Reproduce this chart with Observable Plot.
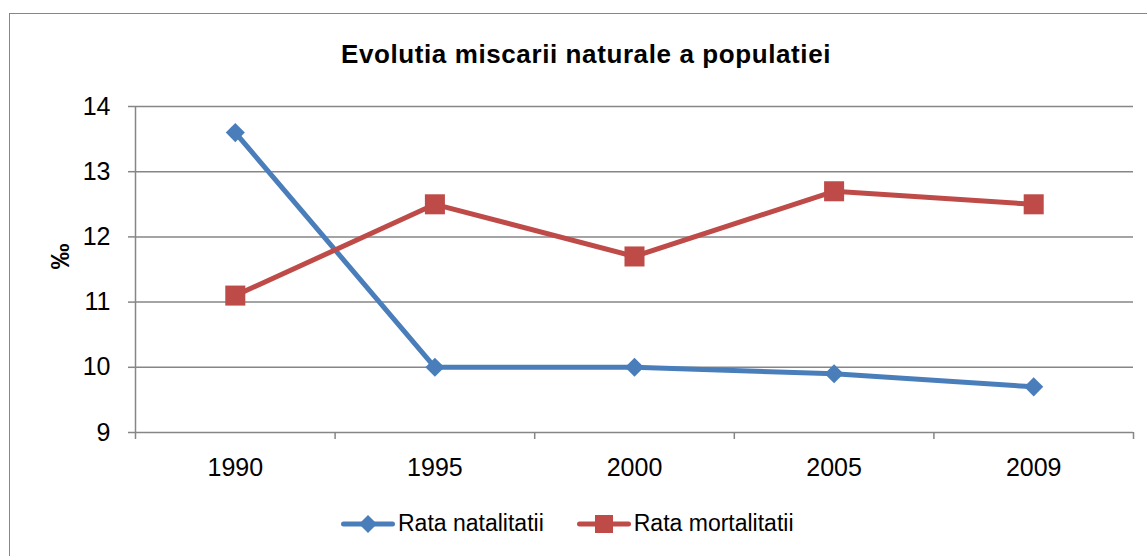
<!DOCTYPE html>
<html>
<head>
<meta charset="utf-8">
<script src="https://cdn.jsdelivr.net/npm/d3@7"></script>
<script src="https://cdn.jsdelivr.net/npm/@observablehq/plot@0.6"></script>
<style>
  html, body { margin: 0; padding: 0; background: #fff; }
  #wrap { position: relative; width: 1147px; height: 556px; overflow: hidden; font-family: "Liberation Sans", Arial, sans-serif; }
  #border { position: absolute; left: 9px; top: 13px; width: 1300px; height: 700px; border: 1.5px solid #878787; }
  #title { position: absolute; left: 0; top: 39px; width: 1172px; text-align: center; font-weight: bold; font-size: 26px; letter-spacing: 0.6px; color: #000; }
  #chart { position: absolute; left: 0; top: 0; }
  #legend { position: absolute; left: 341px; top: 510px; display: flex; align-items: center; font-size: 23px; color: #000; }
  .item { display: flex; align-items: center; }
  .item svg { display: block; }
  .item span { margin-left: 3px; }
</style>
</head>
<body>
<div id="wrap">
  <div id="border"></div>
  <div id="chart"></div>
  <div id="title">Evolutia miscarii naturale a populatiei</div>
  <div id="legend"></div>
</div>
<script>
const years = ["1990", "1995", "2000", "2005", "2009"];
const natalitate = [13.6, 10.0, 10.0, 9.9, 9.7];
const mortalitate = [11.1, 12.5, 11.7, 12.7, 12.5];
const yTicks = [9, 10, 11, 12, 13, 14];
const seriesNames = ["Rata natalitatii", "Rata mortalitatii"];
const seriesColors = ["#4a7ebb", "#be4b48"];
const yLabel = "‰";

const idx = d3.range(years.length);
const nat = idx.map(i => ({i, v: natalitate[i]}));
const mor = idx.map(i => ({i, v: mortalitate[i]}));
const bounds = d3.range(years.length + 1).map(k => k - 0.5);
const grid = "#868686";

const chart = Plot.plot({
  width: 1147,
  height: 556,
  marginLeft: 135,
  marginRight: 14,
  marginTop: 106,
  marginBottom: 124,
  style: {fontFamily: "Liberation Sans, Arial, sans-serif", background: "transparent"},
  x: {type: "linear", domain: [-0.5, years.length - 0.5]},
  y: {domain: [9, 14]},
  marks: [
    Plot.ruleY(yTicks.slice(1), {stroke: grid, strokeWidth: 1.5}),
    Plot.ruleY([yTicks[0]], {stroke: grid, strokeWidth: 1.5}),
    Plot.ruleX([bounds[0]], {stroke: grid, strokeWidth: 1.5}),
    Plot.axisY({ticks: yTicks, tickSize: 7, tickPadding: 18, tickFormat: d3.format("d"), fontSize: 25, stroke: grid, strokeWidth: 1.5, color: "#000", label: null}),
    Plot.axisX({ticks: bounds, tickSize: 7, tickFormat: () => "", stroke: grid, strokeWidth: 1.5, label: null}),
    Plot.axisX({ticks: idx, tickSize: 0, tickPadding: 26, tickFormat: i => years[i], fontSize: 25, color: "#000", label: null}),
    Plot.text([yLabel], {frameAnchor: "left", rotate: -90, dx: -75, fontSize: 26, fontWeight: "bold", fill: "#000"}),
    Plot.line(nat, {x: "i", y: "v", stroke: seriesColors[0], strokeWidth: 5}),
    Plot.line(mor, {x: "i", y: "v", stroke: seriesColors[1], strokeWidth: 5}),
    Plot.dot(nat, {x: "i", y: "v", symbol: "diamond2", r: 8.6, fill: seriesColors[0], stroke: "none"}),
    Plot.dot(mor, {x: "i", y: "v", symbol: "square", r: 11.3, fill: seriesColors[1], stroke: "none"})
  ]
});
document.getElementById("chart").appendChild(chart);

const legend = document.getElementById("legend");
seriesNames.forEach((name, k) => {
  const item = document.createElement("div");
  item.className = "item";
  if (k > 0) item.style.marginLeft = "33px";
  const c = seriesColors[k];
  const marker = k === 0
    ? `<path d="M27,3 L36,12 L27,21 L18,12 Z" fill="${c}"/>`
    : `<rect x="18" y="3" width="18" height="18" fill="${c}"/>`;
  item.innerHTML = `<svg width="54" height="24"><line x1="2.5" y1="12" x2="51.5" y2="12" stroke="${c}" stroke-width="5" stroke-linecap="round"/>${marker}</svg><span>${name}</span>`;
  legend.appendChild(item);
});
</script>
</body>
</html>
